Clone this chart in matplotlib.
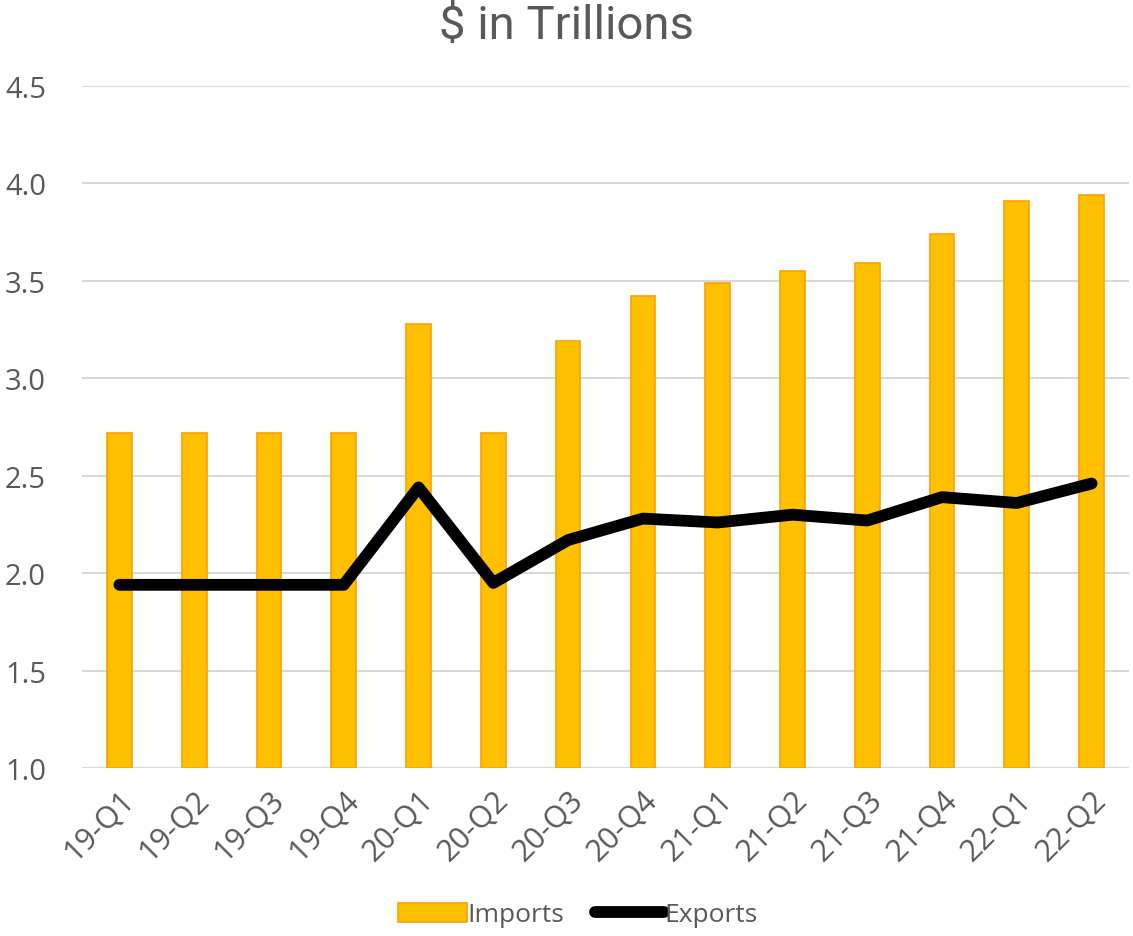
import matplotlib
matplotlib.use("Agg")
import matplotlib.pyplot as plt
import numpy as np

quarters = ["19-Q1", "19-Q2", "19-Q3", "19-Q4", "20-Q1", "20-Q2", "20-Q3",
            "20-Q4", "21-Q1", "21-Q2", "21-Q3", "21-Q4", "22-Q1", "22-Q2"]
imports = [2.72, 2.72, 2.72, 2.72, 3.28, 2.72, 3.19, 3.42, 3.49, 3.55, 3.59, 3.74, 3.91, 3.94]
exports = [1.94, 1.94, 1.94, 1.94, 2.44, 1.95, 2.17, 2.28, 2.26, 2.30, 2.27, 2.39, 2.36, 2.46]

text_color = "#595959"
plt.rcParams["font.family"] = ["Open Sans", "DejaVu Sans"]

fig = plt.figure(figsize=(11.33, 9.37), dpi=100)
ax = fig.add_axes([82 / 1133, 1 - 769 / 937, (1129 - 82) / 1133, (769 - 87) / 937])

x = np.arange(len(quarters))
bars = ax.bar(x, np.array(imports) - 1.0, bottom=1.0, width=0.33, color="#FFC000",
              edgecolor="#FFA000", linewidth=1.2, label="Imports", zorder=2)
line, = ax.plot(x, exports, color="black", linewidth=8.5, solid_capstyle="round",
                solid_joinstyle="round", label="Exports", zorder=3)

ax.set_xlim(-0.5, len(quarters) - 0.5)
ax.set_ylim(1.0, 4.5)
ax.set_yticks(np.arange(1.0, 4.51, 0.5))
ax.set_yticklabels([f"{v:.1f}" for v in np.arange(1.0, 4.51, 0.5)])
ax.set_xticks(x)
ax.set_xticklabels(quarters, rotation=45, ha="right", rotation_mode="anchor")
ax.tick_params(axis="both", length=0, labelcolor=text_color)
ax.tick_params(axis="y", labelsize=21, pad=26)
ax.tick_params(axis="x", labelsize=22, pad=12)
ax.grid(axis="y", color="#d9d9d9", linewidth=1.5, zorder=0)
ax.set_axisbelow(True)
for s in ax.spines.values():
    s.set_visible(False)

fig.text(0.5, 1 - 26 / 937, "$ in Trillions", ha="center", va="center",
         fontsize=34, color=text_color,
         family=["Roboto", "DejaVu Sans"])

fig.legend(handles=[bars, line], labels=["Imports", "Exports"], loc="center",
           bbox_to_anchor=(0.51, 1 - 916 / 937), ncol=2, frameon=False,
           fontsize=19, labelcolor=text_color, handlelength=2.6,
           handletextpad=0.0, columnspacing=1.2)

fig.savefig("out.png", dpi=100)
